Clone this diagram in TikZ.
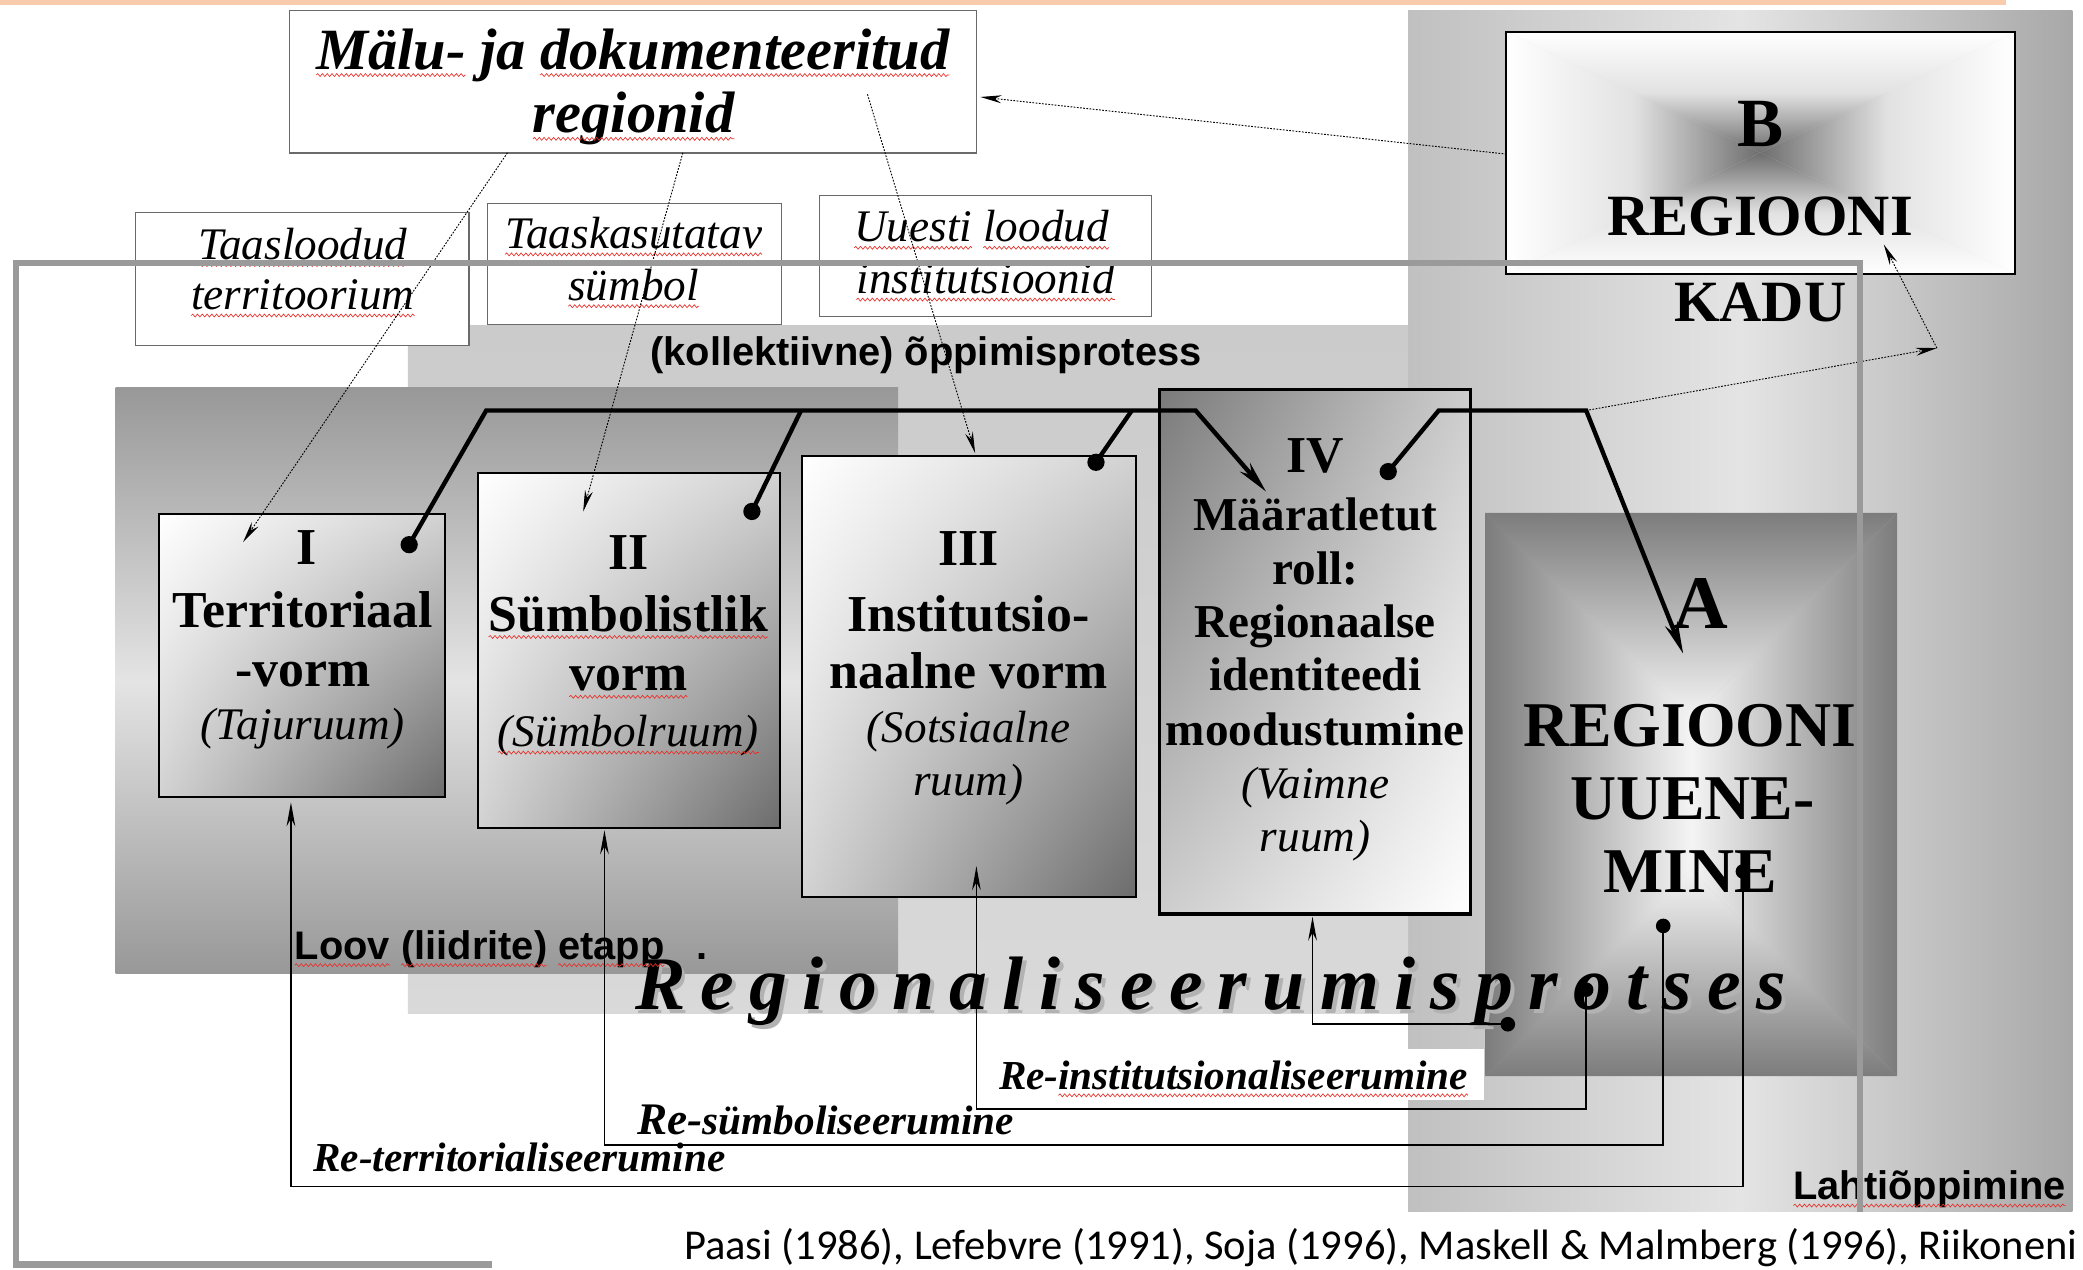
\documentclass[tikz,border=0pt]{standalone}
\usepackage{fontspec}
\setmainfont{Liberation Serif}
\newfontfamily\sansf{Liberation Sans}
\newfontfamily\calib{Carlito}
\usetikzlibrary{arrows.meta,shadings,decorations.pathmorphing}
\definecolor{peach}{HTML}{F8CBAD}
\definecolor{framegray}{HTML}{9A9A9A}
\definecolor{lahL}{HTML}{C0C0C0}
\definecolor{lahM}{HTML}{E4E4E4}
\definecolor{lahR}{HTML}{A8A8A8}
\definecolor{kolT}{HTML}{CBCBCB}
\definecolor{kolB}{HTML}{D9D9D9}
\definecolor{loovE}{HTML}{989898}
\definecolor{loovM}{HTML}{E4E4E4}
\definecolor{aEdge}{HTML}{7C7C7C}
\definecolor{aMid}{HTML}{F4F4F4}
\definecolor{aBase}{HTML}{B8B8B8}
\definecolor{bDark}{HTML}{6E6E6E}
\definecolor{bLight}{HTML}{E2E2E2}
\definecolor{stC}{HTML}{D2D2D2}
\definecolor{stD}{HTML}{6C6C6C}
\definecolor{ivD}{HTML}{7A7A7A}
\definecolor{ivC}{HTML}{CDCDCD}
\definecolor{mgray}{HTML}{6A6A6A}
\definecolor{squigred}{HTML}{E8302A}
\newcommand\rg{\hspace{11.5pt}}
\newcommand\squ[1]{\draw[squig] ([yshift=-4.5pt]#1.base west) -- ([yshift=-4.5pt]#1.base east);}
\tikzset{
 boxw/.style={draw=mgray, fill=white, line width=1.1pt, anchor=north west},
 stage/.style={draw=black, line width=1.4pt, anchor=north west, upper left=white, upper right=stC, lower left=stC, lower right=stD},
 bt/.style={anchor=base, font=\fontsize{39}{39}\selectfont\bfseries},
 btiv/.style={anchor=base, font=\fontsize{35.5}{36}\selectfont\bfseries},
 it/.style={anchor=base, font=\fontsize{34}{34}\selectfont\itshape},
 bigb/.style={anchor=base, font=\fontsize{48}{48}\selectfont\bfseries},
 sanslab/.style={anchor=base west, font=\fontsize{30}{30}\selectfont\sansf\bfseries},
 rel/.style={anchor=base west, font=\fontsize{31}{31}\selectfont\bfseries\itshape},
 titl/.style={anchor=base west, font=\fontsize{44}{44}\selectfont\bfseries\itshape},
 squig/.style={draw=squigred, line width=0.5pt, decorate, decoration={snake, amplitude=1.1pt, segment length=3.6pt}},
 dotarr/.style={line width=0.7pt, dash pattern=on 1.3pt off 1.1pt, -{Stealth[length=16pt,width=6pt]}},
 bus/.style={line width=3.3pt, line join=miter},
 busarr/.style={bus, -{Stealth[length=24pt,width=10pt]}},
 fbarr/.style={line width=1.2pt, -{Stealth[length=18pt,width=6.5pt]}},
}
\begin{document}
\begin{tikzpicture}[x=1pt,y=-1pt, every node/.style={inner sep=0pt, outer sep=0pt}]
\useasboundingbox (0,0) rectangle (1568,956);
\fill[white] (0,0) rectangle (1568,956);
\fill[peach] (0,0) rectangle (1510,3.5);

% background panels
\shade[left color=lahL, right color=lahR, middle color=lahM] (1060,8) rectangle (1560,912);
\shade[top color=kolT, bottom color=kolB] (307,245) rectangle (1060,763);
\shade[top color=loovE, bottom color=loovE, middle color=loovM] (87,292) rectangle (676,733);

% A panel
\coordinate (A1) at (1118,386); \coordinate (A2) at (1428,386);
\coordinate (A3) at (1428,810); \coordinate (A4) at (1118,810);
\coordinate (Ac1) at (1273,541); \coordinate (Ac2) at (1273,655);
\fill[aBase] (A1) rectangle (A3);
\shade[top color=aEdge, bottom color=aMid] (A1) -- (A2) -- (Ac1) -- cycle;
\shade[top color=aMid, bottom color=aEdge] (A4) -- (A3) -- (Ac2) -- cycle;
\shade[left color=aEdge, right color=aMid] (A1) -- (Ac1) -- (Ac2) -- (A4) -- cycle;
\shade[left color=aMid, right color=aEdge] (A2) -- (Ac1) -- (Ac2) -- (A3) -- cycle;

% B box
\coordinate (B1) at (1134,24); \coordinate (B2) at (1517,24);
\coordinate (B3) at (1517,206); \coordinate (B4) at (1134,206);
\coordinate (Bc) at (1325,115);
\fill[bLight] (B1) rectangle (B3);
\shade[top color=white, bottom color=bDark, middle color=bLight] (B1) -- (B2) -- (Bc) -- cycle;
\shade[top color=bDark, bottom color=white, middle color=bLight] (B4) -- (B3) -- (Bc) -- cycle;
\shade[left color=white, right color=bDark, middle color=bLight] (B1) -- (Bc) -- (B4) -- cycle;
\shade[left color=bDark, right color=white, middle color=bLight] (B2) -- (Bc) -- (B3) -- cycle;
\node[draw=black, line width=1.5pt, minimum width=383pt, minimum height=182pt, anchor=north west] (bbox) at (B1) {};

% top boxes
\node[boxw, minimum width=517pt, minimum height=107pt] (malu) at (218,8) {};
\node[boxw, line width=0.9pt, minimum width=251pt, minimum height=100pt] (taasl) at (102,160) {};
\node[boxw, line width=0.9pt, minimum width=221pt, minimum height=91pt] (taask) at (367,153) {};
\node[boxw, line width=0.9pt, minimum width=250pt, minimum height=91pt] (uuesti) at (617,147) {};

% stage boxes
\node[stage, minimum width=215pt, minimum height=213pt] (s1) at (120,387) {};
\node[stage, minimum width=227pt, minimum height=267pt] (s2) at (360,356) {};
\node[stage, minimum width=251pt, minimum height=332pt] (s3) at (604,343) {};
\node[stage, line width=2.6pt, upper left=ivD, upper right=ivC, lower left=ivC, lower right=white, minimum width=234pt, minimum height=395pt] (s4) at (873,293) {};

% white label background
\node[fill=white, minimum width=372pt, minimum height=38pt, anchor=north west] (rwhite) at (745,790) {};

% texts
\node[titl] (malu1a) at (238,52) {Mälu-};
\node[titl] (malu1b) at ([xshift=11pt]malu1a.base east) {ja};
\node[titl] (malu1c) at ([xshift=11pt]malu1b.base east) {dokumenteeritud};
\node[anchor=base, font=\fontsize{44}{44}\selectfont\bfseries\itshape] (malu2) at (477,100) {regionid};
\node[it] (tl1) at (228,195) {Taasloodud};
\node[it] (tl2) at (228,233) {territoorium};
\node[it] (tk1) at (477,187) {Taaskasutatav};
\node[it] (tk2) at (477,226) {sümbol};
\node[it, anchor=base west] (ul1a) at (643,182) {Uuesti};
\node[it, anchor=base west] (ul1b) at ([xshift=8.5pt]ul1a.base east) {loodud};
\node[it] (ul2) at (742,221) {institutsioonid};
\node[anchor=base, font=\fontsize{30}{30}\selectfont\sansf\bfseries] (kol) at (697,275) {(kollektiivne) õppimisprotess};

\node[bt] (s1a) at (231,425) {I};
\node[bt] (s1b) at (228,472) {Territoriaal};
\node[bt] (s1c) at (228,517) {-vorm};
\node[it] (s1d) at (228,557) {(Tajuruum)};

\node[bt] (s2a) at (473,429) {II};
\node[bt] (s2b) at (473,475) {Sümbolistlik};
\node[bt] (s2c) at (473,520) {vorm};
\node[it] (s2d) at (473,562) {(Sümbolruum)};

\node[bt] (s3a) at (729,426) {III};
\node[bt] (s3b) at (729,475) {Institutsio-};
\node[bt] (s3c) at (729,518) {naalne vorm};
\node[it] (s3d) at (729,559) {(Sotsiaalne};
\node[it] (s3e) at (729,599) {ruum)};

\node[bt] (s4a) at (990,356) {IV};
\node[btiv] (s4b) at (990,399) {Määratletut};
\node[btiv] (s4c) at (990,440) {roll:};
\node[btiv] (s4d) at (990,480) {Regionaalse};
\node[btiv] (s4e) at (990,520) {identiteedi};
\node[btiv] (s4f) at (990,561) {moodustumine};
\node[it] (s4g) at (990,601) {(Vaimne};
\node[it] (s4h) at (990,641) {ruum)};

\node[anchor=base, font=\fontsize{57}{57}\selectfont\bfseries] (atxt) at (1280,473) {A};
\node[bigb] (a1) at (1272,562) {REGIOONI};
\node[bigb] (a2) at (1274,617) {UUENE-};
\node[bigb] (a3) at (1272,672) {MINE};

\node[anchor=base, font=\fontsize{52}{52}\selectfont\bfseries] (btxt) at (1325,110) {B};
\node[anchor=base, font=\fontsize{44}{44}\selectfont\bfseries] (b1) at (1325,177) {REGIOONI};
\node[anchor=base, font=\fontsize{44}{44}\selectfont\bfseries] (b2) at (1325,242) {KADU};

\node[sanslab] (loova) at (222,722) {Loov};
\node[sanslab] (loovb) at ([xshift=8.3pt]loova.base east) {(liidrite)};
\node[sanslab] (loovc) at ([xshift=8.3pt]loovb.base east) {etapp};
\node[sanslab] (loovd) at ([xshift=24pt]loovc.base east) {.};
\node[sanslab] (laht) at (1350,903) {Lahtiõppimine};

\node[anchor=base west, font=\fontsize{57}{57}\selectfont\bfseries\itshape, text=gray!60] (regsh) at (481,763) {R\rg e\rg g\rg i\rg o\rg n\rg a\rg l\rg i\rg s\rg e\rg e\rg r\rg u\rg m\rg i\rg s\rg p\rg r\rg o\rg t\rg s\rg e\rg s};
\node[anchor=base west, font=\fontsize{57}{57}\selectfont\bfseries\itshape] (reg) at (478,760) {R\rg e\rg g\rg i\rg o\rg n\rg a\rg l\rg i\rg s\rg e\rg e\rg r\rg u\rg m\rg i\rg s\rg p\rg r\rg o\rg t\rg s\rg e\rg s};

\node[rel] (rinsta) at (752,820) {Re-};
\node[rel] (rinstb) at (rinsta.base east) {institutsionaliseerumine};
\node[rel] (rsym) at (480,854) {{\fontsize{34}{34}\selectfont Re-}sümboliseerumine};
\node[rel] (rter) at (236,882) {Re-territorialiseerumine};

\node[anchor=base west, font=\fontsize{32}{32}\selectfont\calib] (cite) at (515,948) {Paasi (1986), Lefebvre (1991), Soja (1996), Maskell \& Malmberg (1996), Riikoneni};

% spell-check squiggles
\foreach \w in {malu1a,malu1c,malu2,tl1,tl2,tk1,tk2,ul1a,ul1b,ul2,s2b,s2c,s2d,loova,loovb,loovc,laht,rinstb} {\squ{\w}}

% thick connectors
\coordinate (d1) at (308,410); \coordinate (p1) at (366,309);
\coordinate (p2) at (900,309); \coordinate (t4) at (953,370);
\coordinate (p3) at (603,309); \coordinate (d2) at (566,385);
\coordinate (p4) at (852,309); \coordinate (d3) at (825,348);
\coordinate (d4) at (1045,355); \coordinate (p5) at (1083,309);
\coordinate (p6) at (1194,309); \coordinate (tA) at (1267,492);
\draw[busarr] (d1) -- (p1) -- (p2) -- (t4);
\draw[bus] (p3) -- (d2);
\draw[bus] (p4) -- (d3);
\draw[busarr] (d4) -- (p5) -- (p6) -- (tA);
\foreach \d in {d1,d2,d3,d4} \fill (\d) circle[radius=6.5pt];

% dotted arrows
\coordinate (bL) at (1134,116); \coordinate (malR) at (738,73);
\coordinate (mA) at (382,115); \coordinate (iA) at (183,408);
\coordinate (mB) at (514,115); \coordinate (iB) at (439,385);
\coordinate (mC) at (653,71); \coordinate (iC) at (734,341);
\coordinate (kc) at (1458,262); \coordinate (kb) at (1418,184);
\draw[dotarr] (bL) -- (malR);
\draw[dotarr] (mA) -- (iA);
\draw[dotarr] (mB) -- (iB);
\draw[dotarr] (mC) -- (iC);
\draw[dotarr] (p6) -- (kc);
\draw[dotarr] (kc) -- (kb);

% feedback lines
\coordinate (f1) at (1312,656); \coordinate (f1a) at (1312,893);
\coordinate (f1b) at (219,893); \coordinate (f1t) at (219,604);
\coordinate (f2) at (1252,697); \coordinate (f2a) at (1252,862);
\coordinate (f2b) at (455,862); \coordinate (f2t) at (455,625);
\coordinate (f3) at (1194,745); \coordinate (f3a) at (1194,835);
\coordinate (f3b) at (735,835); \coordinate (f3t) at (735,652);
\coordinate (f4) at (1135,771); \coordinate (f4b) at (988,771);
\coordinate (f4t) at (988,690);
\draw[fbarr] (f1) -- (f1a) -- (f1b) -- (f1t);
\draw[fbarr] (f2) -- (f2a) -- (f2b) -- (f2t);
\draw[fbarr] (f3) -- (f3a) -- (f3b) -- (f3t);
\draw[fbarr] (f4) -- (f4b) -- (f4t);
\foreach \d in {f1,f2,f3,f4} \fill (\d) circle[radius=5.5pt];

% grey frame
\coordinate (fr1) at (370,952); \coordinate (fr2) at (12,952);
\coordinate (fr3) at (12,198); \coordinate (fr4) at (1400,198);
\coordinate (fr5) at (1400,912);
\draw[framegray, line width=5pt] (fr1) -- (fr2) -- (fr3) -- (fr4) -- (fr5);
\end{tikzpicture}
\end{document}
